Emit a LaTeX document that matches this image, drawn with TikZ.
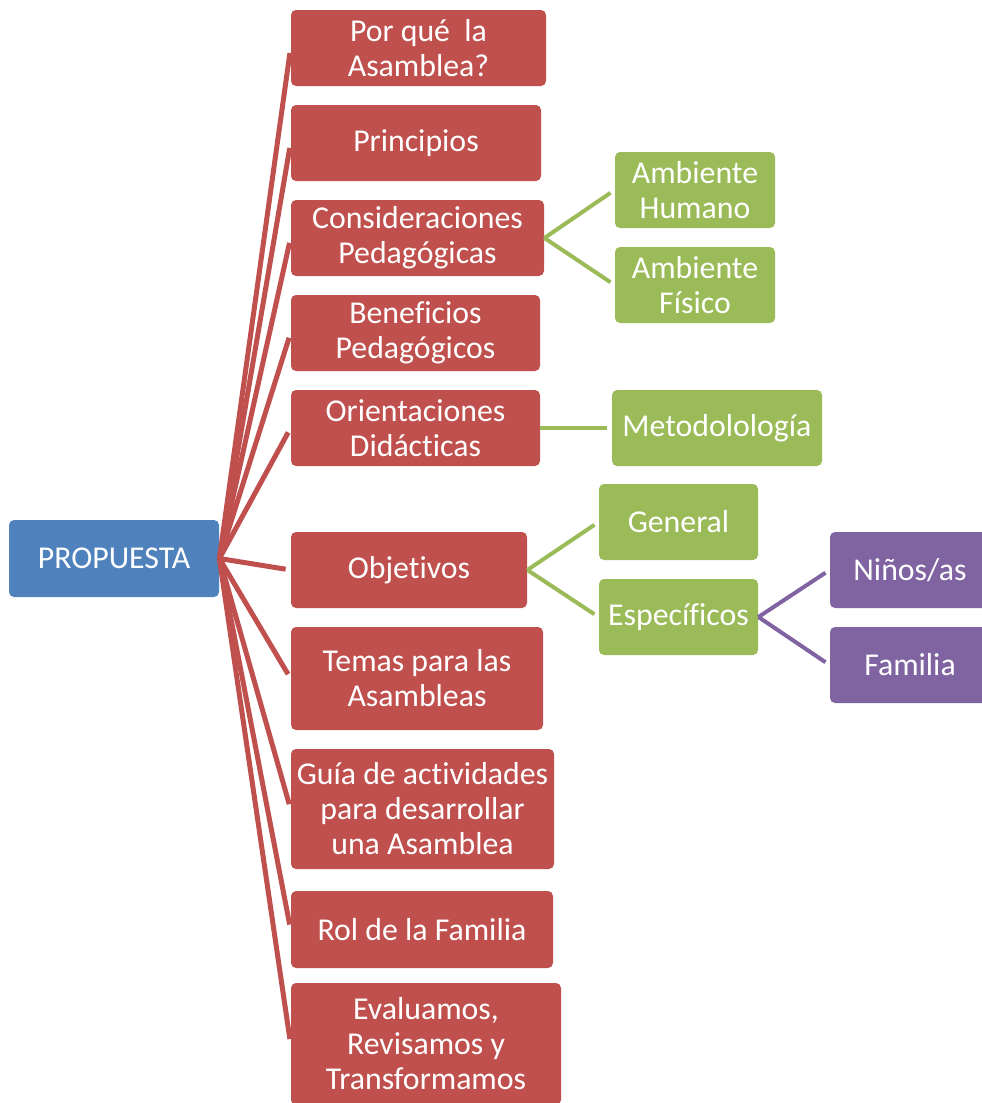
\documentclass[tikz,border=0pt]{standalone}
\usepackage{fontspec}
\setmainfont{Carlito}[Ligatures=NoCommon]
\usepackage{xcolor}
\usetikzlibrary{positioning}

\definecolor{boxblue}{HTML}{4F81BD}
\definecolor{boxred}{HTML}{C0504D}
\definecolor{boxgreen}{HTML}{9BBB59}
\definecolor{boxpurple}{HTML}{8064A2}

\begin{document}
\begin{tikzpicture}[x=0.5pt,y=-0.5pt,
    box/.style={rounded corners=2.5pt, text=white, align=center, inner sep=1pt,
        minimum height=38pt, font=\fontsize{15.9}{17.5}\selectfont},
    bluebox/.style={box, fill=boxblue},
    redbox/.style={box, fill=boxred},
    greenbox/.style={box, fill=boxgreen},
    purplebox/.style={box, fill=boxpurple},
    link/.style={line width=2.5pt, shorten >=2.5pt},
    redlink/.style={link, boxred},
    greenlink/.style={link, line width=2pt, boxgreen},
    purplelink/.style={link, line width=2pt, boxpurple}]
    \useasboundingbox (0,0) rectangle (981,1103);

    % root
    \node[bluebox, minimum width=105pt, minimum height=38.5pt] (prop) at (114,558.5) {PROPUESTA};

    % first level
    \node[redbox, minimum width=127.5pt] (porque) at (418.5,48) {Por qué~ la\\Asamblea?};
    \node[redbox, minimum width=125pt] (princ) at (416,143) {Principios};
    \node[redbox, minimum width=126.5pt] (consid) at (417.5,238) {Consideraciones\\Pedagógicas};
    \node[redbox, minimum width=124.5pt] (benef) at (415.5,333) {Beneficios\\Pedagógicos};
    \node[redbox, minimum width=124.5pt] (orient) at (415.5,428) {Orientaciones\\Didácticas};
    \node[redbox, minimum width=118pt] (obj) at (409,570) {Objetivos};
    \node[redbox, minimum width=126pt, minimum height=51.5pt] (temas) at (417,678.5) {Temas para las\\Asambleas};
    \node[redbox, minimum width=131.5pt, minimum height=60pt] (guia) at (422.5,809) {Guía de actividades\\para desarrollar\\una Asamblea};
    \node[redbox, minimum width=131pt, minimum height=38.5pt] (rol) at (422,929.5) {Rol de la Familia};
    \node[redbox, minimum width=135pt, minimum height=61pt] (eval) at (426,1044) {Evaluamos,\\Revisamos y\\Transformamos};

    % second level
    \node[greenbox, minimum width=80pt] (humano) at (695,190) {Ambiente\\Humano};
    \node[greenbox, minimum width=80pt] (fisico) at (695,285) {Ambiente\\Físico};
    \node[greenbox, minimum width=105pt] (metod) at (717,428) {Metodolología};
    \node[greenbox, minimum width=79.5pt] (general) at (678.5,522) {General};
    \node[greenbox, minimum width=79.5pt] (especif) at (678.5,617) {Específicos};

    % third level
    \node[purplebox, minimum width=80pt] (ninos) at (910,570) {Niños/as};
    \node[purplebox, minimum width=80pt] (familia) at (910,665) {Familia};

    % connectors
    \foreach \n in {porque,princ,consid,benef,orient,obj,temas,guia,rol,eval}
        \draw[redlink] (prop.east) -- (\n.west);
    \foreach \n in {humano,fisico}
        \draw[greenlink] (consid.east) -- (\n.west);
    \draw[greenlink] (orient.east) -- (metod.west);
    \foreach \n in {general,especif}
        \draw[greenlink] (obj.east) -- (\n.west);
    \foreach \n in {ninos,familia}
        \draw[purplelink] (especif.east) -- (\n.west);
\end{tikzpicture}
\end{document}
